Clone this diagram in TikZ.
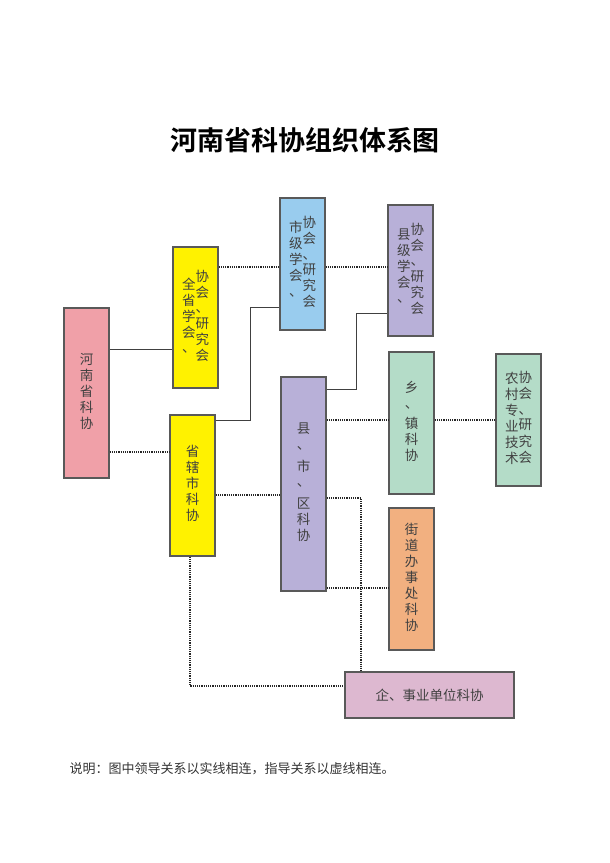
\documentclass[tikz,border=0pt]{standalone}
\usepackage{fontspec}
\setmainfont{Noto Sans CJK SC}
\newfontfamily\titlefont{Noto Sans CJK SC Bold}
\usetikzlibrary{positioning,calc}
\newcommand\vcol[1]{\begin{tabular}[t]{@{}c@{}}#1\end{tabular}}
\begin{document}
\begin{tikzpicture}[
  x=1pt, y=-1pt,
  orgbox/.style={draw=black!65, line width=1.2pt, inner sep=0pt, align=center,
    font=\fontsize{13.5}{15.5}\selectfont, text=black!75},
  lead/.style={draw=black!75, line width=0.9pt},
  guide/.style={draw=black!85, line width=1.2pt, dash pattern=on 1.2pt off 1pt}
]
\useasboundingbox (0,0) rectangle (610,863);

\node[font=\titlefont\fontsize{27}{27}\selectfont] (title) at (305,140) {河南省科协组织体系图};

% boxes
\node[orgbox, fill={rgb,255:red,240;green,160;blue,168}, minimum width=45, minimum height=170] (hn) at (86.5,393)
  {\vcol{河\\南\\省\\科\\协}};
\node[orgbox, fill=yellow, minimum width=45, minimum height=141] (qs) at (195.5,317.5)
  {\raisebox{-8pt}{\vcol{全\\省\\学\\会\\、}}\vcol{协\\会\\、\\研\\究\\会}};
\node[orgbox, fill={rgb,255:red,153;green,204;blue,238}, minimum width=45, minimum height=132] (sj) at (302.5,264)
  {\raisebox{-5pt}{\vcol{市\\级\\学\\会\\、}}\vcol{协\\会\\、\\研\\究\\会}};
\node[orgbox, fill={rgb,255:red,184;green,176;blue,216}, minimum width=45, minimum height=131] (xj) at (410.5,270.5)
  {\raisebox{-5pt}{\vcol{县\\级\\学\\会\\、}}\vcol{协\\会\\、\\研\\究\\会}};
\node[orgbox, fill=yellow, minimum width=45, minimum height=141] (sx) at (192.5,485.5)
  {\vcol{省\\辖\\市\\科\\协}};
\node[orgbox, fill={rgb,255:red,184;green,176;blue,216}, minimum width=45, minimum height=214] (xs) at (303.5,484)
  {\vcol{县\\、\\[6pt]市\\、\\[6pt]区\\科\\协}};
\node[orgbox, fill={rgb,255:red,180;green,220;blue,200}, minimum width=45, minimum height=142] (xz) at (411.5,423)
  {\vcol{乡\\、\\[4pt]镇\\科\\协}};
\node[orgbox, fill={rgb,255:red,180;green,220;blue,200}, minimum width=45, minimum height=132] (nc) at (518.5,420)
  {\raisebox{-1pt}{\vcol{农\\村\\专\\业\\技\\术}}\vcol{协\\会\\、\\研\\究\\会}};
\node[orgbox, fill={rgb,255:red,242;green,176;blue,128}, minimum width=45, minimum height=142] (jd) at (411.5,579)
  {\vcol{街\\道\\办\\事\\处\\科\\协}};
\node[orgbox, fill={rgb,255:red,221;green,184;blue,208}, minimum width=169, minimum height=46] (qy) at (429.5,695)
  {企、事业单位科协};

% solid: leadership
\draw[lead] (hn.east |- 0,349) -- (qs.west |- 0,349);
\draw[lead] (sx.east |- 0,420) -| (250,307) -- (sj.west |- 0,307);
\draw[lead] (xs.east |- 0,389) -| (356,313) -- (xj.west |- 0,313);

% dotted: guidance
\draw[guide] (hn.east |- 0,452) -- (sx.west |- 0,452);
\draw[guide] (qs.east |- 0,267) -- (sj.west |- 0,267);
\draw[guide] (sj.east |- 0,267) -- (xj.west |- 0,267);
\draw[guide] (xs.east |- 0,420) -- (xz.west |- 0,420);
\draw[guide] (xz.east |- 0,420) -- (nc.west |- 0,420);
\draw[guide] (sx.east |- 0,495) -- (xs.west |- 0,495);
\draw[guide] (xs.east |- 0,498) -| (qy.north -| 361,0);
\draw[guide] (xs.east |- 0,588) -- (jd.west |- 0,588);
\draw[guide] (sx.south -| 190,0) |- (qy.west |- 0,686);

\node[anchor=west, font=\fontsize{13}{13}\selectfont, text=black!80] (note) at (66,769)
  {说明：图中领导关系以实线相连，指导关系以虚线相连。};
\end{tikzpicture}
\end{document}
